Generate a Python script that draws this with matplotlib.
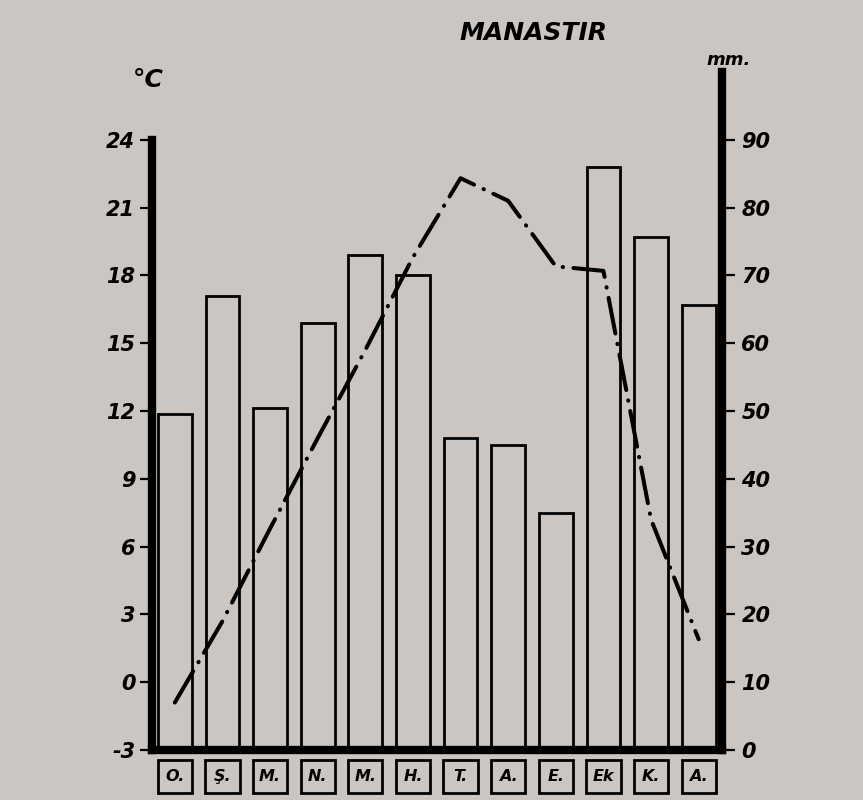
import matplotlib
matplotlib.use("Agg")
import matplotlib.pyplot as plt
import matplotlib.transforms as mtransforms
from matplotlib.patches import Rectangle
import numpy as np

# Manastir climate data
months = ["O.", "Ş.", "M.", "N.", "M.", "H.", "T.", "A.", "E.", "Ek", "K.", "A."]
precip_mm = [49.5, 67, 50.5, 63, 73, 70, 46, 45, 35, 86, 75.7, 65.6]
temp_c = [-0.9, 2.7, 6.8, 10.8, 14.7, 18.8, 22.3, 21.3, 18.4, 18.2, 7.2, 1.9]
temp_ticks = [-3, 0, 3, 6, 9, 12, 15, 18, 21, 24]
mm_ticks = [0, 10, 20, 30, 40, 50, 60, 70, 80, 90]

paper = "#cbc6c1"
font = dict(family="DejaVu Sans", weight="bold", style="italic")

fig = plt.figure(figsize=(8.63, 8.0), dpi=100, facecolor=paper)
ax = fig.add_axes([0.1761, 0.0625, 0.6605, 0.8475])
ax.set_facecolor("none")
ax2 = ax.twinx()
ax2.set_facecolor("none")

x = np.arange(len(months))

# precipitation bars (right axis)
ax2.bar(x, precip_mm, width=0.71, fill=False, edgecolor="black", linewidth=2.0, zorder=2)
ax2.set_ylim(0, 100)
ax2.set_yticks(mm_ticks)
ax2.set_yticklabels([str(v) for v in mm_ticks], fontsize=15, **font)

# temperature line (left axis)
ax.plot(x, temp_c, color="black", linewidth=2.9,
        linestyle=(0, (9, 2.6, 0.1, 2.6)), dash_capstyle="round", zorder=3)
ax.set_zorder(ax2.get_zorder() + 1)
ax.set_ylim(-3, 27)
ax.set_yticks(temp_ticks)
ax.set_yticklabels([str(v) for v in temp_ticks], fontsize=15, **font)

for a in (ax, ax2):
    a.set_xlim(-0.48, 11.49)
    a.set_xticks([])
    for s in a.spines.values():
        s.set_visible(False)

ax.spines["left"].set_visible(True)
ax.spines["left"].set_linewidth(6)
ax.spines["left"].set_bounds(-3, 24)
ax.spines["bottom"].set_visible(True)
ax.spines["bottom"].set_linewidth(6)
ax2.spines["right"].set_visible(True)
ax2.spines["right"].set_linewidth(6)

ax.tick_params(axis="y", length=9, width=1.6, pad=3, direction="out")
ax2.tick_params(axis="y", length=9, width=1.6, pad=5, direction="out")

# month boxes below the axis
trans = mtransforms.blended_transform_factory(ax.transData, ax.transAxes)
for i, m in enumerate(months):
    ax.add_patch(Rectangle((i - 0.36, -0.0634), 0.72, 0.0487, transform=trans,
                           fill=False, edgecolor="black", linewidth=2.0, clip_on=False))
    ax.text(i, -0.039, m, transform=trans, ha="center", va="center",
            fontsize=11.5, **font)

# unit labels and title
fig.text(148 / 863, 1 - 80 / 800, "°C", ha="center", va="center", fontsize=18, **font)
fig.text(729 / 863, 1 - 60 / 800, "mm.", ha="center", va="center", fontsize=13, **font)
fig.text(533 / 863, 1 - 33 / 800, "MANASTIR", ha="center", va="center", fontsize=18, **font)

fig.savefig("out.png", dpi=100, facecolor=paper)
